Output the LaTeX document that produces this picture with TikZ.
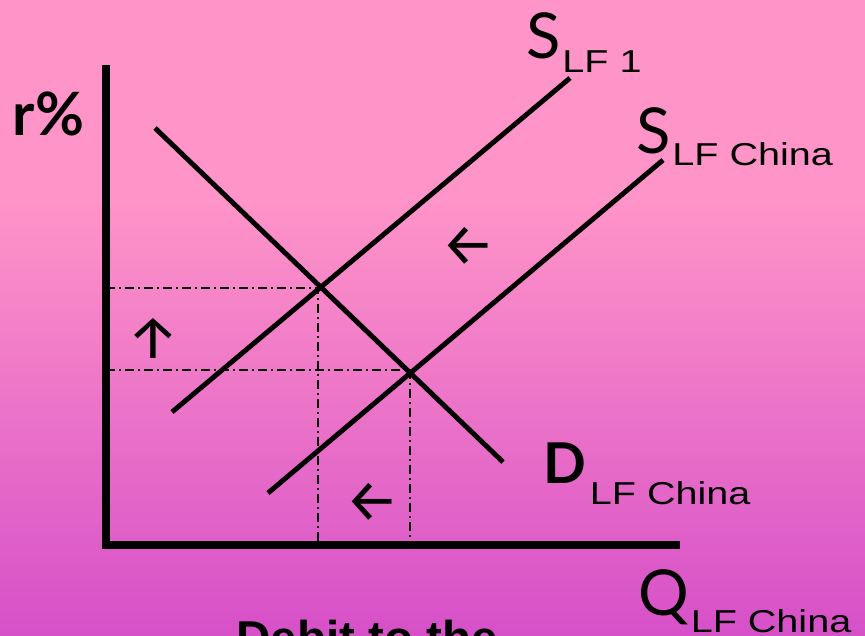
\documentclass[tikz,border=0pt]{standalone}
\usepackage{fontspec}
\setmainfont{Lato}
\newfontfamily\subfont[FakeStretch=1.25]{Liberation Sans}
\newfontfamily\plainsans{Liberation Sans}
\newfontfamily\arrowfont{Fira Sans}
\usepackage{tikz}
\usetikzlibrary{positioning}
\definecolor{pinktop}{RGB}{255,148,200}
\definecolor{pinkbot}{RGB}{214,80,200}

\begin{document}
\begin{tikzpicture}[
    x = 0.01cm, y = -0.01cm,
    curve/.style = {line width=1.4pt},
    axis/.style = {line width=2.1pt},
    guide/.style = {line width=0.55pt, dash pattern=on 2.6pt off 1.1pt on 0.6pt off 1.1pt},
    mainlbl/.style = {inner sep=0pt, anchor=base west, font=\fontsize{18}{18}\selectfont},
    sublbl/.style = {inner sep=0pt, anchor=base west, font=\subfont\fontsize{9}{9}\selectfont},
    shiftarrow/.style = {inner sep=0pt, font=\arrowfont\fontsize{17}{17}\selectfont}
    ]
    \useasboundingbox (0,0) rectangle (865,635);
    \clip (0,0) rectangle (865,635);
    \fill[pinktop] (0,0) rectangle (865,201);
    \shade[top color=pinktop, bottom color=pinkbot] (0,200) rectangle (865,635);

    \coordinate (O) at (106,545);
    \coordinate (Ytop) at (106,65);
    \coordinate (Xend) at (680,545);
    \coordinate (D1) at (155,128);
    \coordinate (D2) at (503,462);
    \coordinate (Sa1) at (172,412);
    \coordinate (Sa2) at (570,78);
    \coordinate (Sb1) at (268,493);
    \coordinate (Sb2) at (663,160);
    \coordinate (E1) at (318,288);
    \coordinate (E2) at (410,370);

    \begin{scope}[guide]
        \draw (O |- E1) -- (E1) -- (E1 |- O);
        \draw (O |- E2) -- (E2) -- (E2 |- O);
    \end{scope}
    \begin{scope}[curve]
        \draw (D1) -- (D2);
        \draw (Sa1) -- (Sa2);
        \draw (Sb1) -- (Sb2);
    \end{scope}
    \draw[axis] (Ytop) -- (O) -- (Xend);

    \node[mainlbl, font=\bfseries\fontsize{17}{17}\selectfont] (rlbl) at (12,135) {r\%};
    \node[mainlbl] (Salbl) at (526,58) {S};
    \node[sublbl] (Sasub) at ([yshift=-0.14cm]Salbl.base east) {LF 1};
    \node[mainlbl] (Sblbl) at (636,153) {S};
    \node[sublbl] (Sbsub) at ([yshift=-0.12cm]Sblbl.base east) {LF China};
    \node[mainlbl, font=\bfseries\fontsize{16}{16}\selectfont] (Dlbl) at (543,483) {D};
    \node[sublbl] (Dsub) at ([yshift=-0.21cm, xshift=0.02cm]Dlbl.base east) {LF China};
    \node[mainlbl] (Qlbl) at (638,615) {Q};
    \node[sublbl] (Qsub) at ([yshift=-0.17cm]Qlbl.base east) {LF China};
    \node[inner sep=0pt, anchor=base west, font=\plainsans\bfseries\fontsize{13.5}{13.5}\selectfont] (debit) at (236,654) {Debit to the};

    \node[shiftarrow] (arrS) at (468,246) {←};
    \node[shiftarrow] (arrR) at (153,338) {↑};
    \node[shiftarrow] (arrQ) at (372,502) {←};
\end{tikzpicture}
\end{document}
